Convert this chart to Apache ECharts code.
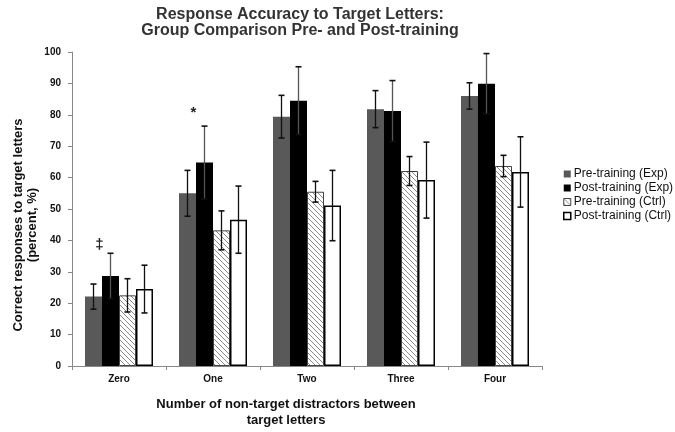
<!DOCTYPE html>
<html><head><meta charset="utf-8">
<script src="https://cdn.jsdelivr.net/npm/echarts@6/dist/echarts.min.js"></script>
<style>html,body{margin:0;padding:0;background:#fff}#c{width:675px;height:432px}</style>
</head><body><div id="c"></div>
<script>
var categories = ['Zero', 'One', 'Two', 'Three', 'Four'];
var seriesNames = ['Pre-training (Exp)', 'Post-training (Exp)', 'Pre-training (Ctrl)', 'Post-training (Ctrl)'];
var preExp = [22.1, 55.0, 79.4, 81.8, 86.0];
var preExpErr = [4.0, 7.3, 6.8, 5.9, 4.2];
var postExp = [28.7, 64.8, 84.5, 81.2, 89.9];
var postExpErr = [7.2, 11.6, 10.8, 9.7, 9.6];
var preCtrl = [22.5, 43.2, 55.5, 62.1, 63.7];
var preCtrlErr = [5.3, 6.2, 3.3, 4.6, 3.4];
var postCtrl = [24.5, 46.6, 51.1, 59.2, 61.8];
var postCtrlErr = [7.6, 10.7, 11.2, 12.1, 11.2];
var yTicks = [0, 10, 20, 30, 40, 50, 60, 70, 80, 90, 100];
var annotations = [['Zero', 38.6, '‡'], ['One', 80.7, '*']];

var FONT = 'Liberation Sans, Arial, sans-serif';
var BW = 17;

// hatch pattern
var pc = document.createElement('canvas');
pc.width = 5; pc.height = 5;
var ctx = pc.getContext('2d');
ctx.fillStyle = '#fff'; ctx.fillRect(0, 0, 5, 5);
ctx.strokeStyle = '#8a8a8a'; ctx.lineWidth = 1;
ctx.beginPath();
ctx.moveTo(-1, -1); ctx.lineTo(6, 6);
ctx.moveTo(-1, 4); ctx.lineTo(1, 6);
ctx.moveTo(4, -1); ctx.lineTo(6, 1);
ctx.stroke();
var hatch = { image: pc, repeat: 'repeat' };

var means = [preExp, postExp, preCtrl, postCtrl];
var errs = [preExpErr, postExpErr, preCtrlErr, postCtrlErr];
var styles = [
  { color: '#595959', borderColor: '#595959', borderWidth: 0 },
  { color: '#000000', borderColor: '#000000', borderWidth: 0 },
  { color: hatch, borderColor: '#444', borderWidth: 1 },
  { color: '#ffffff', borderColor: '#000', borderWidth: 1.5 }
];
var errColors = ['#111', '#555', '#111', '#111'];

var errData = [];
for (var s = 0; s < 4; s++) {
  for (var i = 0; i < categories.length; i++) {
    errData.push([i, means[s][i] - errs[s][i], means[s][i] + errs[s][i], s]);
  }
}

var series = [];
for (var s2 = 0; s2 < 4; s2++) {
  series.push({
    name: seriesNames[s2], type: 'bar', data: means[s2], barWidth: BW, barGap: '0%',
    itemStyle: styles[s2], emphasis: { disabled: true }
  });
}
series.push({
  type: 'custom', data: errData, encode: { x: 0, y: [1, 2] }, z: 10, silent: true,
  renderItem: function (params, api) {
    var idx = api.value(0), s = api.value(3);
    var lo = api.coord([idx, api.value(1)]);
    var hi = api.coord([idx, api.value(2)]);
    var x = lo[0] + (s - 1.5) * BW;
    var cw = 3;
    var st = { stroke: errColors[s], lineWidth: 1.3 };
    return { type: 'group', children: [
      { type: 'line', shape: { x1: x, y1: lo[1], x2: x, y2: hi[1] }, style: st },
      { type: 'line', shape: { x1: x - cw, y1: lo[1], x2: x + cw, y2: lo[1] }, style: { stroke: '#111', lineWidth: 1.6 } },
      { type: 'line', shape: { x1: x - cw, y1: hi[1], x2: x + cw, y2: hi[1] }, style: { stroke: '#111', lineWidth: 1.6 } }
    ] };
  }
});
series.push({
  type: 'custom', data: annotations.map(function (a) { return [categories.indexOf(a[0]), a[1], a[2]]; }),
  encode: { x: 0, y: 1 }, z: 11, silent: true,
  renderItem: function (params, api) {
    var p = api.coord([api.value(0), api.value(1)]);
    return { type: 'text', x: p[0] - 1.15 * BW, y: p[1],
      style: { text: annotations[params.dataIndex][2], font: 'bold 15px ' + FONT, fill: '#222', align: 'center', verticalAlign: 'middle' } };
  }
});

var chart = echarts.init(document.getElementById('c'));
chart.setOption({
  animation: false,
  backgroundColor: '#fff',
  title: [
    { text: 'Response Accuracy to Target Letters:\nGroup Comparison Pre- and Post-training', left: 300, textAlign: 'center', top: 6, padding: 0,
      textStyle: { fontFamily: FONT, fontSize: 16, fontWeight: 'bold', color: '#333', lineHeight: 16.5 } },
    { text: 'Number of non-target distractors between\ntarget letters', left: 281, textAlign: 'center', top: 391,
      textStyle: { fontFamily: FONT, fontSize: 13, fontWeight: 'bold', color: '#111', lineHeight: 16 } }
  ],
  graphic: [{ type: 'text', x: 25, y: 225, rotation: Math.PI / 2,
    style: { text: 'Correct responses to target letters\n(percent, %)', font: 'bold 13px ' + FONT, fill: '#111', align: 'center', verticalAlign: 'middle', lineHeight: 14 } }],
  legend: {
    orient: 'vertical', left: 558, top: 163, itemWidth: 7, itemHeight: 7, itemGap: 2,
    textStyle: { fontFamily: FONT, fontSize: 12, color: '#111', padding: [0, 0, 0, -2] },
    data: seriesNames.map(function (n, k) {
      return { name: n, icon: 'rect', itemStyle: k === 2 ? { color: hatch, borderColor: '#444', borderWidth: 1 } : (k === 3 ? { color: '#fff', borderColor: '#000', borderWidth: 1.5 } : {}) };
    })
  },
  grid: { left: 72, right: 133, top: 52, bottom: 66 },
  xAxis: {
    type: 'category', data: categories,
    axisLine: { lineStyle: { color: '#888', width: 1 } },
    axisTick: { show: true, alignWithLabel: false, length: 4, lineStyle: { color: '#888' } },
    axisLabel: { fontFamily: FONT, fontSize: 10, fontWeight: 'bold', color: '#111', margin: 8 }
  },
  yAxis: {
    type: 'value', min: yTicks[0], max: yTicks[yTicks.length - 1], interval: 10,
    splitLine: { show: false },
    axisLine: { show: true, lineStyle: { color: '#888', width: 1 } },
    axisTick: { show: true, length: 4, lineStyle: { color: '#888' } },
    axisLabel: { fontFamily: FONT, fontSize: 10, fontWeight: 'bold', color: '#111', margin: 11 }
  },
  series: series
});
</script></body></html>
